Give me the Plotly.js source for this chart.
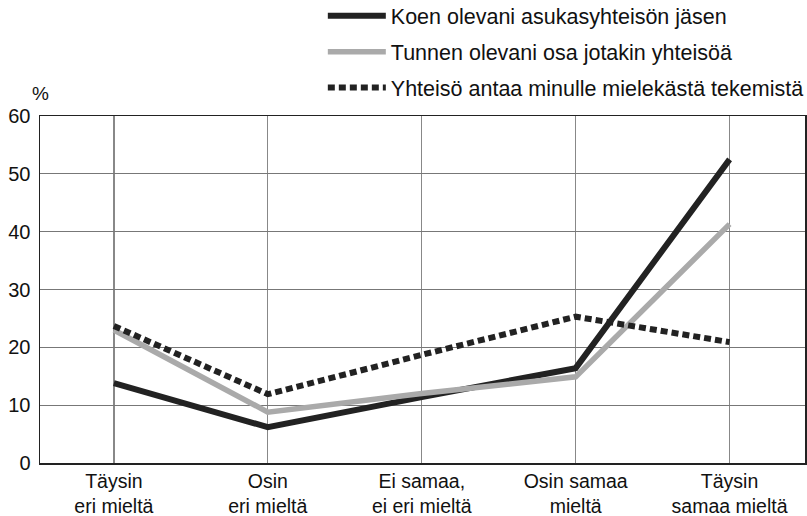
<!DOCTYPE html>
<html>
<head>
<meta charset="utf-8">
<script src="https://cdn.plot.ly/plotly-3.0.1.min.js"></script>
<style>html,body{margin:0;padding:0;background:#fff}#chart{width:807px;height:516px}</style>
</head>
<body>
<div id="chart"></div>
<script>
const categories = ["Täysin<br>eri mieltä", "Osin<br>eri mieltä", "Ei samaa,<br>ei eri mieltä", "Osin samaa<br>mieltä", "Täysin<br>samaa mieltä"];
const seriesNames = ["Koen olevani asukasyhteisön jäsen", "Tunnen olevani osa jotakin yhteisöä", "Yhteisö antaa minulle mielekästä tekemistä"];
const koen = [13.8, 6.2, 11.4, 16.4, 52.5];
const tunnen = [23.0, 8.8, 12.0, 14.9, 41.3];
const yhteiso = [23.7, 11.9, 18.7, 25.3, 20.9];
const yTicks = [0, 10, 20, 30, 40, 50, 60];

const xIdx = categories.map((c, i) => i);
const font = "Liberation Sans, Arial, sans-serif";

const traces = [
  {x: xIdx, y: koen, name: seriesNames[0], legendgroup: "a", mode: "lines", line: {color: "#222", width: 6}},
  {x: xIdx, y: tunnen, name: seriesNames[1], legendgroup: "b", mode: "lines", line: {color: "#aaa", width: 5.5}},
  {x: xIdx, y: yhteiso, name: seriesNames[2], legendgroup: "c", mode: "lines", line: {color: "#222", width: 6, dash: "7px,4px"}}
];

const layout = {
  width: 807, height: 516,
  margin: {l: 40, r: 2, t: 116, b: 53, autoexpand: false},
  paper_bgcolor: "#fff", plot_bgcolor: "#fff",
  font: {family: font, size: 20, color: "#111"},
  showlegend: true,
  legend: {x: 1.005, xanchor: "right", y: 1.348, yref: "paper", yanchor: "top", orientation: "v",
           tracegroupgap: 5, itemwidth: 58, font: {size: 21.5, color: "#111"}, bgcolor: "rgba(0,0,0,0)"},
  xaxis: {
    range: [-0.48, 4.49], tickmode: "array", tickvals: xIdx, ticktext: categories,
    tickangle: 0, automargin: false,
    showgrid: true, gridcolor: "#888", gridwidth: 1.3,
    showline: true, linecolor: "#222", linewidth: 1.5, mirror: true,
    ticks: "", zeroline: false, fixedrange: true,
    tickfont: {size: 19.5, color: "#111"}
  },
  yaxis: {
    range: [0, 60], tickmode: "array", tickvals: yTicks, ticktext: yTicks.map(String),
    automargin: false,
    showgrid: true, gridcolor: "#777", gridwidth: 1.3,
    showline: true, linecolor: "#222", linewidth: 1.5, mirror: true,
    ticks: "", ticklabelstandoff: 4, zeroline: false, fixedrange: true,
    tickfont: {size: 20, color: "#111"}
  },
  annotations: [
    {text: "%", xref: "paper", yref: "paper", x: 0, y: 1, xanchor: "center", yanchor: "bottom", yshift: 10, showarrow: false, font: {size: 19, color: "#111"}}
  ]
};

Plotly.newPlot("chart", traces, layout, {displayModeBar: false, staticPlot: true});
</script>
</body>
</html>
